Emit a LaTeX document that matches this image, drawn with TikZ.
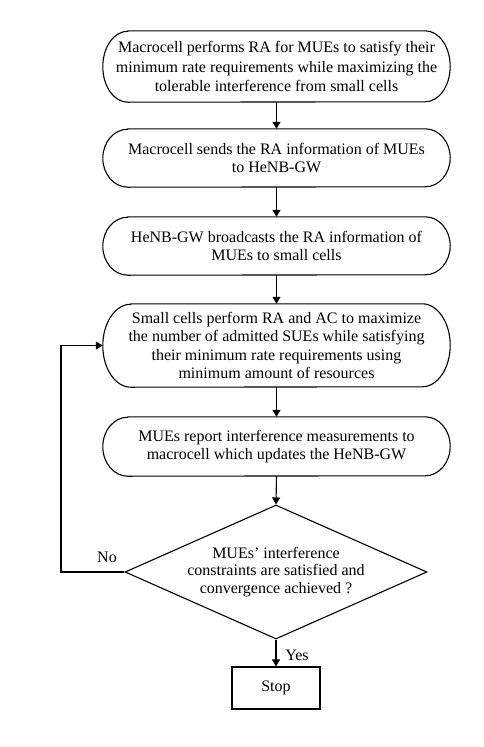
\documentclass[tikz,border=0pt]{standalone}
\usepackage{fontspec}
\setmainfont{Liberation Serif}
\usetikzlibrary{shapes.geometric,arrows.meta}
\newcommand\stadiumbox[3]{%
  \draw[boxline] ([xshift=#2]#1.north west) -- ([xshift=-#2]#1.north east)
    arc[start angle=90,end angle=-90,x radius=#2,y radius=#3]
    -- ([xshift=#2]#1.south west)
    arc[start angle=270,end angle=90,x radius=#2,y radius=#3] -- cycle;}
\begin{document}
\begin{tikzpicture}[x=1pt,y=-1pt,
  txt/.style={align=center,font=\fontsize{16}{18.5}\selectfont,inner sep=0pt},
  slot/.style={minimum width=347pt,inner sep=0pt},
  boxline/.style={line width=1.1pt},
  arr/.style={line width=1.1pt,-{Triangle[width=8pt,length=7pt]}},
  lbl/.style={font=\fontsize{16}{18}\selectfont,inner sep=0pt}]
\useasboundingbox (0,0) rectangle (484,747);
\node[slot,minimum height=71pt] (b1) at (276.5,66.5) {};
\node[slot,minimum height=58pt] (b2) at (276.5,158) {};
\node[slot,minimum height=58pt] (b3) at (276.5,246) {};
\node[slot,minimum height=83pt] (b4) at (276.5,345.5) {};
\node[slot,minimum height=59pt] (b5) at (276.5,446.5) {};
\stadiumbox{b1}{25pt}{35.5pt}
\stadiumbox{b2}{25pt}{29pt}
\stadiumbox{b3}{25pt}{29pt}
\stadiumbox{b4}{28pt}{41.5pt}
\stadiumbox{b5}{25pt}{29.5pt}
\node[txt,font=\fontsize{16}{19.3}\selectfont] (t1) at (b1) {Macrocell performs RA for MUEs to satisfy their\\minimum rate requirements while maximizing the\\tolerable interference from small cells};
\node[txt] (t2) at (b2) {Macrocell sends the RA information of MUEs\\to HeNB-GW};
\node[txt] (t3) at (b3) {HeNB-GW broadcasts the RA information of\\MUEs to small cells};
\node[txt] (t4) at (b4) {Small cells perform RA and AC to maximize\\the number of admitted SUEs while satisfying\\their minimum rate requirements using\\minimum amount of resources};
\node[txt,font=\fontsize{16}{17.5}\selectfont] (t5) at (b5) {MUEs report interference measurements to\\macrocell which updates the HeNB-GW};
\node[diamond,draw,boxline,minimum width=302pt,minimum height=134pt,inner sep=0pt] (d) at (276,572) {};
\node[txt,font=\fontsize{16}{17.5}\selectfont] (td) at (d) {MUEs’ interference\\constraints are satisfied and\\convergence achieved ?};
\node[draw,boxline,minimum width=88pt,minimum height=42pt,inner sep=0pt,font=\fontsize{16}{18}\selectfont] (stop) at (276,688) {Stop};
\draw[arr] (b1.south) -- (b2.north);
\draw[arr] (b2.south) -- (b3.north);
\draw[arr] (b3.south) -- (b4.north);
\draw[arr] (b4.south) -- (b5.north);
\draw[arr] (b5.south) -- (d.north);
\draw[arr] (d.south) -- (stop.north);
\coordinate (lp) at (61,572);
\draw[arr] (d.west) -- (lp) |- (b4.west);
\node[lbl] (no) at (107,557) {No};
\node[lbl] (yes) at (297,655) {Yes};
\end{tikzpicture}
\end{document}
